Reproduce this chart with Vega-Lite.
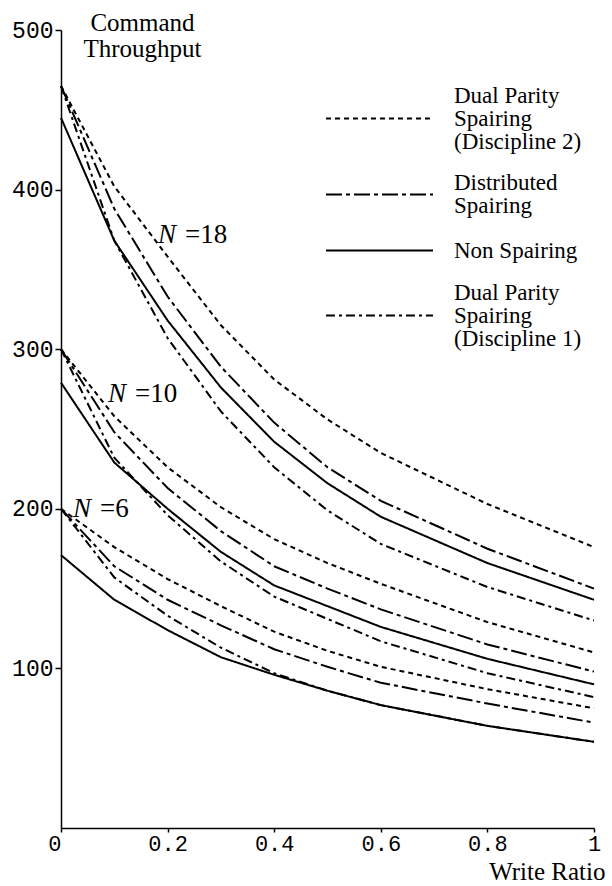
{
  "$schema": "https://vega.github.io/schema/vega-lite/v6.json",
  "width": 533,
  "height": 798,
  "autosize": "none",
  "padding": {"left": 61, "top": 30, "right": 18, "bottom": 58},
  "background": "white",
  "datasets": {
    "series": [
      {"n": 18, "d": "D2", "x": 0, "y": 465}, {"n": 18, "d": "D2", "x": 0.1, "y": 402}, {"n": 18, "d": "D2", "x": 0.2, "y": 358}, {"n": 18, "d": "D2", "x": 0.3, "y": 315}, {"n": 18, "d": "D2", "x": 0.4, "y": 281}, {"n": 18, "d": "D2", "x": 0.5, "y": 256}, {"n": 18, "d": "D2", "x": 0.6, "y": 235}, {"n": 18, "d": "D2", "x": 0.8, "y": 203}, {"n": 18, "d": "D2", "x": 1, "y": 176},
      {"n": 18, "d": "DS", "x": 0, "y": 465}, {"n": 18, "d": "DS", "x": 0.1, "y": 388}, {"n": 18, "d": "DS", "x": 0.2, "y": 333}, {"n": 18, "d": "DS", "x": 0.3, "y": 289}, {"n": 18, "d": "DS", "x": 0.4, "y": 254}, {"n": 18, "d": "DS", "x": 0.5, "y": 226}, {"n": 18, "d": "DS", "x": 0.6, "y": 205}, {"n": 18, "d": "DS", "x": 0.8, "y": 175}, {"n": 18, "d": "DS", "x": 1, "y": 150},
      {"n": 18, "d": "NS", "x": 0, "y": 445}, {"n": 18, "d": "NS", "x": 0.1, "y": 368}, {"n": 18, "d": "NS", "x": 0.2, "y": 318}, {"n": 18, "d": "NS", "x": 0.3, "y": 276}, {"n": 18, "d": "NS", "x": 0.4, "y": 242}, {"n": 18, "d": "NS", "x": 0.5, "y": 216}, {"n": 18, "d": "NS", "x": 0.6, "y": 195}, {"n": 18, "d": "NS", "x": 0.8, "y": 166}, {"n": 18, "d": "NS", "x": 1, "y": 143},
      {"n": 18, "d": "D1", "x": 0, "y": 465}, {"n": 18, "d": "D1", "x": 0.1, "y": 368}, {"n": 18, "d": "D1", "x": 0.2, "y": 307}, {"n": 18, "d": "D1", "x": 0.3, "y": 261}, {"n": 18, "d": "D1", "x": 0.4, "y": 226}, {"n": 18, "d": "D1", "x": 0.5, "y": 199}, {"n": 18, "d": "D1", "x": 0.6, "y": 178}, {"n": 18, "d": "D1", "x": 0.8, "y": 151}, {"n": 18, "d": "D1", "x": 1, "y": 130},
      {"n": 10, "d": "D2", "x": 0, "y": 300}, {"n": 10, "d": "D2", "x": 0.1, "y": 258}, {"n": 10, "d": "D2", "x": 0.2, "y": 226}, {"n": 10, "d": "D2", "x": 0.3, "y": 201}, {"n": 10, "d": "D2", "x": 0.4, "y": 181}, {"n": 10, "d": "D2", "x": 0.5, "y": 166}, {"n": 10, "d": "D2", "x": 0.6, "y": 153}, {"n": 10, "d": "D2", "x": 0.8, "y": 129}, {"n": 10, "d": "D2", "x": 1, "y": 110},
      {"n": 10, "d": "DS", "x": 0, "y": 300}, {"n": 10, "d": "DS", "x": 0.1, "y": 248}, {"n": 10, "d": "DS", "x": 0.2, "y": 213}, {"n": 10, "d": "DS", "x": 0.3, "y": 186}, {"n": 10, "d": "DS", "x": 0.4, "y": 164}, {"n": 10, "d": "DS", "x": 0.5, "y": 150}, {"n": 10, "d": "DS", "x": 0.6, "y": 137}, {"n": 10, "d": "DS", "x": 0.8, "y": 115}, {"n": 10, "d": "DS", "x": 1, "y": 98},
      {"n": 10, "d": "NS", "x": 0, "y": 279}, {"n": 10, "d": "NS", "x": 0.1, "y": 229}, {"n": 10, "d": "NS", "x": 0.2, "y": 200}, {"n": 10, "d": "NS", "x": 0.3, "y": 173}, {"n": 10, "d": "NS", "x": 0.4, "y": 152}, {"n": 10, "d": "NS", "x": 0.5, "y": 139}, {"n": 10, "d": "NS", "x": 0.6, "y": 126}, {"n": 10, "d": "NS", "x": 0.8, "y": 106}, {"n": 10, "d": "NS", "x": 1, "y": 90},
      {"n": 10, "d": "D1", "x": 0, "y": 300}, {"n": 10, "d": "D1", "x": 0.1, "y": 232}, {"n": 10, "d": "D1", "x": 0.2, "y": 196}, {"n": 10, "d": "D1", "x": 0.3, "y": 167}, {"n": 10, "d": "D1", "x": 0.4, "y": 145}, {"n": 10, "d": "D1", "x": 0.5, "y": 131}, {"n": 10, "d": "D1", "x": 0.6, "y": 117}, {"n": 10, "d": "D1", "x": 0.8, "y": 97}, {"n": 10, "d": "D1", "x": 1, "y": 82},
      {"n": 6, "d": "D2", "x": 0, "y": 200}, {"n": 6, "d": "D2", "x": 0.1, "y": 176}, {"n": 6, "d": "D2", "x": 0.2, "y": 156}, {"n": 6, "d": "D2", "x": 0.3, "y": 139}, {"n": 6, "d": "D2", "x": 0.4, "y": 123}, {"n": 6, "d": "D2", "x": 0.5, "y": 111}, {"n": 6, "d": "D2", "x": 0.6, "y": 101}, {"n": 6, "d": "D2", "x": 0.8, "y": 87}, {"n": 6, "d": "D2", "x": 1, "y": 75},
      {"n": 6, "d": "DS", "x": 0, "y": 200}, {"n": 6, "d": "DS", "x": 0.1, "y": 164}, {"n": 6, "d": "DS", "x": 0.2, "y": 143}, {"n": 6, "d": "DS", "x": 0.3, "y": 127}, {"n": 6, "d": "DS", "x": 0.4, "y": 112}, {"n": 6, "d": "DS", "x": 0.5, "y": 101}, {"n": 6, "d": "DS", "x": 0.6, "y": 91}, {"n": 6, "d": "DS", "x": 0.8, "y": 78}, {"n": 6, "d": "DS", "x": 1, "y": 66},
      {"n": 6, "d": "NS", "x": 0, "y": 171}, {"n": 6, "d": "NS", "x": 0.1, "y": 143}, {"n": 6, "d": "NS", "x": 0.2, "y": 124}, {"n": 6, "d": "NS", "x": 0.3, "y": 107}, {"n": 6, "d": "NS", "x": 0.4, "y": 96}, {"n": 6, "d": "NS", "x": 0.5, "y": 86}, {"n": 6, "d": "NS", "x": 0.6, "y": 77}, {"n": 6, "d": "NS", "x": 0.8, "y": 64}, {"n": 6, "d": "NS", "x": 1, "y": 54},
      {"n": 6, "d": "D1", "x": 0, "y": 200}, {"n": 6, "d": "D1", "x": 0.1, "y": 157}, {"n": 6, "d": "D1", "x": 0.2, "y": 133}, {"n": 6, "d": "D1", "x": 0.3, "y": 113}, {"n": 6, "d": "D1", "x": 0.4, "y": 97}, {"n": 6, "d": "D1", "x": 0.5, "y": 86}, {"n": 6, "d": "D1", "x": 0.6, "y": 77}, {"n": 6, "d": "D1", "x": 0.8, "y": 64}, {"n": 6, "d": "D1", "x": 1, "y": 54}
    ],
    "labels": [
      {"x": 0.182, "y": 366.5, "rest": "=18"},
      {"x": 0.088, "y": 267, "rest": "=10"},
      {"x": 0.0225, "y": 195, "rest": "=6"}
    ]
  },
  "layer": [
    {
      "data": {"name": "series"},
      "mark": {"type": "line", "stroke": "black", "strokeWidth": 2},
      "encoding": {
        "x": {
          "field": "x", "type": "quantitative",
          "scale": {"domain": [0, 1], "nice": false, "zero": false},
          "axis": {
            "values": [0, 0.2, 0.4, 0.6, 0.8, 1],
            "format": ".1~f",
            "grid": false,
            "labelFont": "Liberation Mono", "labelFontSize": 22, "labelColor": "black",
            "labelAlign": {"condition": {"test": "datum.value === 0", "value": "right"}, "value": "center"},
            "labelFlush": false, "labelOverlap": false, "labelBound": false,
            "tickSize": 4, "labelPadding": 1, "tickColor": "black", "tickWidth": 1.5,
            "domainColor": "black", "domainWidth": 1.5,
            "title": "Write Ratio", "titleFont": "Liberation Serif", "titleFontSize": 25, "titleFontWeight": "normal", "titleColor": "black",
            "titleAlign": "right", "titleBaseline": "alphabetic", "titleX": 544, "titleY": 51
          }
        },
        "y": {
          "field": "y", "type": "quantitative",
          "scale": {"domain": [0, 500], "nice": false},
          "axis": {
            "values": [100, 200, 300, 400, 500],
            "grid": false,
            "labelFont": "Liberation Mono", "labelFontSize": 23, "labelColor": "black",
            "tickSize": 6, "labelPadding": 2, "tickColor": "black", "tickWidth": 1.5,
            "domainColor": "black", "domainWidth": 1.5,
            "title": ["Command", "Throughput"], "titleFont": "Liberation Serif", "titleFontSize": 25, "titleFontWeight": "normal", "titleColor": "black",
            "titleAngle": 0, "titleAlign": "center", "titleBaseline": "alphabetic", "titleLineHeight": 26, "titleX": 81, "titleY": 0
          }
        },
        "detail": {"field": "n", "type": "nominal"},
        "strokeDash": {
          "field": "d", "type": "nominal",
          "scale": {"domain": ["D2", "DS", "NS", "D1"], "range": [[5, 4], [16, 4, 4, 4], [1, 0], [9, 4, 3, 4]]},
          "legend": {
            "orient": "none", "legendX": 304, "legendY": 74,
            "title": null,
            "symbolType": "M-4,0H4", "symbolSize": 716, "symbolStrokeWidth": 2, "symbolStrokeColor": "black",
            "labelFont": "Liberation Serif", "labelFontSize": 23, "labelColor": "black", "labelLimit": 400,
            "labelOffset": 60, "rowPadding": 18,
            "labelExpr": "datum.value == 'D2' ? ['Dual Parity', 'Spairing', '(Discipline 2)'] : datum.value == 'DS' ? ['Distributed', ' Spairing'] : datum.value == 'NS' ? 'Non Spairing' : ['Dual Parity', 'Spairing', '(Discipline 1)']",
            "encode": {
              "labels": {
                "update": {
                  "dy": {"signal": "datum.value == 'DS' ? -11.5 : datum.value == 'NS' ? 0 : -23"}
                }
              }
            }
          }
        }
      }
    },
    {
      "data": {"name": "labels"},
      "mark": {"type": "text", "text": "N", "fontStyle": "italic", "align": "left", "baseline": "alphabetic", "font": "Liberation Serif", "fontSize": 27, "color": "black"},
      "encoding": {
        "x": {"field": "x", "type": "quantitative"},
        "y": {"field": "y", "type": "quantitative"}
      }
    },
    {
      "data": {"name": "labels"},
      "mark": {"type": "text", "dx": 27, "align": "left", "baseline": "alphabetic", "font": "Liberation Serif", "fontSize": 27, "color": "black"},
      "encoding": {
        "x": {"field": "x", "type": "quantitative"},
        "y": {"field": "y", "type": "quantitative"},
        "text": {"field": "rest", "type": "nominal"}
      }
    }
  ],
  "config": {
    "view": {"stroke": null},
    "style": {"guide-label": {"lineHeight": 23}}
  }
}
